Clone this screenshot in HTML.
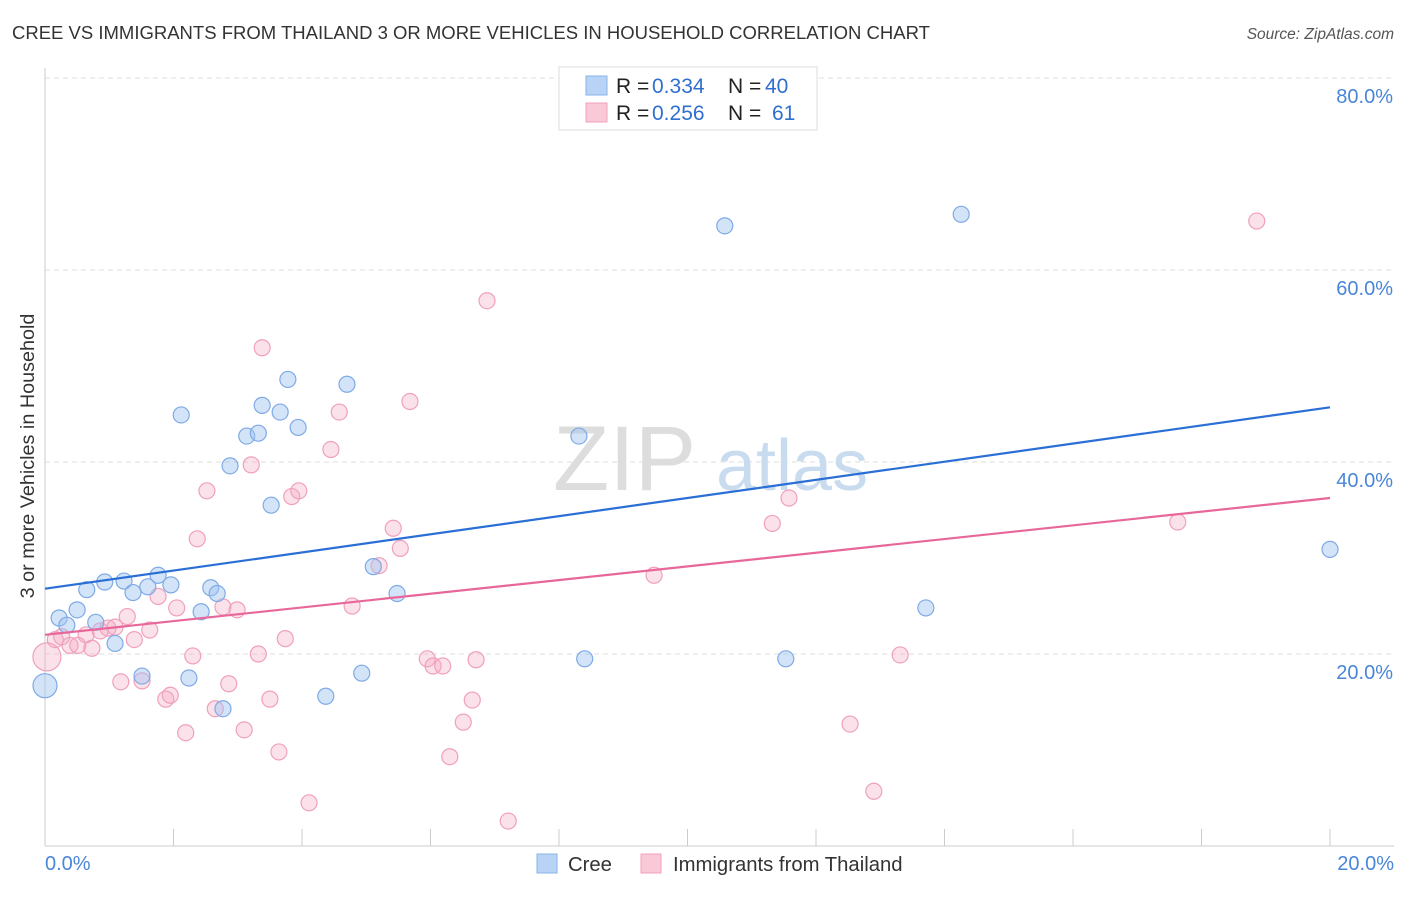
<!DOCTYPE html>
<html><head><meta charset="utf-8"><style>
body{margin:0;background:#fff;font-family:"Liberation Sans",sans-serif}
svg text{font-family:"Liberation Sans",sans-serif}
</style></head><body>
<svg id="chart" width="1406" height="892" xmlns="http://www.w3.org/2000/svg">
<text x="12" y="39" font-size="18.5" fill="#333">CREE VS IMMIGRANTS FROM THAILAND 3 OR MORE VEHICLES IN HOUSEHOLD CORRELATION CHART</text>
<text x="1394" y="39" font-size="15.5" fill="#555" text-anchor="end" font-style="italic">Source: ZipAtlas.com</text>
<g id="grid"></g>
<g><text x="553" y="490" font-size="92" fill="#ddd" font-family="Liberation Serif,serif">ZIP</text><text x="716" y="490" font-size="72" fill="#c9dcef">atlas</text></g>
<text transform="translate(34,456) rotate(-90)" font-size="19.8" fill="#333" text-anchor="middle">3 or more Vehicles in Household</text>
<g id="axes"></g>
<g id="pts"></g>
<g id="lines"></g>
<g font-size="21">
<rect x="559" y="67" width="258" height="63" fill="#fff" stroke="#ddd"/>
<rect x="586" y="76" width="21" height="19" fill="#b8d3f5" stroke="#8ab4e8"/>
<rect x="586" y="103" width="21" height="19" fill="#f9c9d8" stroke="#f0a0bc"/>
<text x="616" y="93" fill="#222">R =</text><text x="652" y="93" fill="#2f6fd0">0.334</text>
<text x="728" y="93" fill="#222">N =</text><text x="765" y="93" fill="#2f6fd0">40</text>
<text x="616" y="120" fill="#222">R =</text><text x="652" y="120" fill="#2f6fd0">0.256</text>
<text x="728" y="120" fill="#222">N =</text><text x="772" y="120" fill="#2f6fd0">61</text>
</g>
<g>
<rect x="537" y="854" width="20" height="19" fill="#b8d3f5" stroke="#8ab4e8"/><text x="568" y="871" font-size="20.3" fill="#333">Cree</text>
<rect x="641" y="854" width="20" height="19" fill="#f9c9d8" stroke="#f0a0bc"/><text x="673" y="871" font-size="20.3" fill="#333">Immigrants from Thailand</text>
</g>
</svg>
<script>
const yTicks=[20,40,60,80];
const yTickLabels=["20.0%","40.0%","60.0%","80.0%"];
const xTicks=[2,4,6,8,10,12,14,16,18,20];
const creeX=[0,0.22,0.34,0.5,0.65,0.79,0.93,1.09,1.23,1.37,1.51,1.6,1.76,1.96,2.12,2.24,2.43,2.58,2.68,2.77,2.88,3.14,3.32,3.38,3.52,3.66,3.78,3.94,4.37,4.7,4.93,5.11,5.48,8.31,8.4,10.58,11.53,13.71,14.26,20];
const creeY=[16.7,23.75,23,24.6,26.7,23.3,27.5,21.1,27.6,26.4,17.7,27,28.2,27.2,44.9,17.5,24.4,26.9,26.3,14.3,39.6,42.7,43,45.9,35.5,45.2,48.6,43.6,15.6,48.1,18,29.1,26.3,42.7,19.5,64.6,19.5,24.8,65.8,30.9];
const thaiX=[0.03,0.16,0.26,0.39,0.51,0.64,0.73,0.86,0.98,1.09,1.18,1.28,1.39,1.51,1.63,1.76,1.88,1.95,2.05,2.19,2.3,2.37,2.52,2.65,2.77,2.86,2.99,3.1,3.21,3.32,3.38,3.5,3.64,3.74,3.84,3.95,4.11,4.45,4.58,4.78,5.2,5.42,5.53,5.68,5.95,6.04,6.19,6.3,6.51,6.65,6.71,6.88,7.21,9.48,11.32,11.58,12.53,12.9,13.31,17.63,18.86];
const thaiY=[19.7,21.5,21.8,20.9,20.9,22,20.6,22.4,22.7,22.8,17.1,23.9,21.5,17.2,22.5,26,15.3,15.7,24.8,11.8,19.8,32,37,14.3,24.9,16.9,24.6,12.1,39.7,20,51.9,15.3,9.8,21.6,36.4,37,4.5,41.3,45.2,25,29.2,33.1,31,46.3,19.5,18.75,18.75,9.3,12.9,15.2,19.4,56.8,2.6,28.2,33.6,36.25,12.7,5.7,19.9,33.75,65.1];
const creeTrend=[26.8,45.7];
const thaiTrend=[22.0,36.25];
const X0=45,X1=1330,Y0=846,PPY=9.6;
const sx=v=>X0+(X1-X0)*v/20, sy=v=>Y0-v*PPY;
const NS="http://www.w3.org/2000/svg";
function mk(t,a,p){const e=document.createElementNS(NS,t);for(const k in a)e.setAttribute(k,a[k]);p.appendChild(e);return e;}
const grid=document.getElementById('grid'),axes=document.getElementById('axes');
yTicks.forEach((t,i)=>{
 const l=mk('line',{x1:X0,x2:1394,y1:sy(t),y2:sy(t),stroke:'#ddd','stroke-dasharray':'5,4'},grid);
 
 
 const tx=mk('text',{x:1393,y:sy(t)+25,'font-size':20,fill:'#4a86d8','text-anchor':'end'},axes);
 tx.textContent=yTickLabels[i];
 
 
});
mk('line',{x1:X0,x2:X0,y1:68,y2:Y0,stroke:'#ccc'},axes);
mk('line',{x1:X0,x2:1394,y1:Y0,y2:Y0,stroke:'#ccc'},axes);
xTicks.forEach(t=>{const l=mk('line',{x1:sx(t),x2:sx(t),y1:829,y2:Y0,stroke:'#ccc'},axes);
 
 });
let a=mk('text',{x:45,y:870,'font-size':20,fill:'#4a86d8'},axes);a.textContent='0.0%';


a=mk('text',{x:1394,y:870,'font-size':20,fill:'#4a86d8','text-anchor':'end'},axes);a.textContent='20.0%';


const pts=document.getElementById('pts');
thaiX.forEach((x,i)=>{const c=mk('circle',{cx:sx(x),cy:sy(thaiY[i]),r:i==0?14:8,fill:'rgba(244,170,195,0.35)',stroke:'#f0a0bc','stroke-width':1.2},pts);
 
 });
creeX.forEach((x,i)=>{const c=mk('circle',{cx:sx(x),cy:sy(creeY[i]),r:i==0?12:8,fill:'rgba(160,196,240,0.45)',stroke:'#7eaae6','stroke-width':1.2},pts);
 
 });
const lines=document.getElementById('lines');
let l1=mk('line',{x1:sx(0),y1:sy(creeTrend[0]),x2:sx(20),y2:sy(creeTrend[1]),stroke:'#2a6fd6','stroke-width':2.2},lines);


let l2=mk('line',{x1:sx(0),y1:sy(thaiTrend[0]),x2:sx(20),y2:sy(thaiTrend[1]),stroke:'#e8679a','stroke-width':2.2},lines);


</script>
</body></html>
